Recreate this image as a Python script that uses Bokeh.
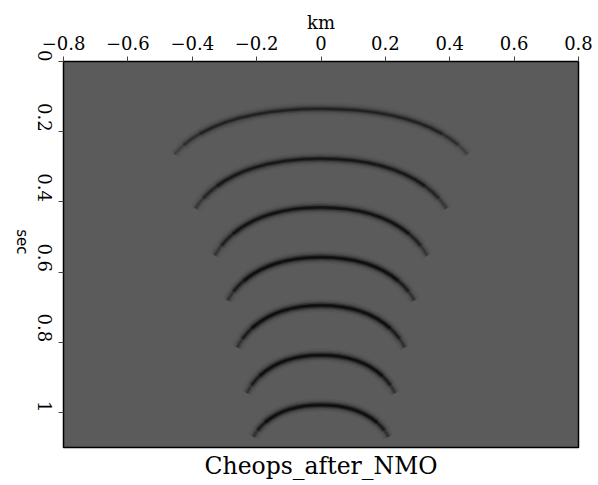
import math
from bokeh.plotting import figure
from bokeh.models import Range1d, FixedTicker, Title, ColumnDataSource
from bokeh.embed import file_html
from bokeh.resources import INLINE

# ---- data ----
x_ticks = [-0.8, -0.6, -0.4, -0.2, 0.0, 0.2, 0.4, 0.6, 0.8]
x_labels = ["\u22120.8", "\u22120.6", "\u22120.4", "\u22120.2", "0", "0.2", "0.4", "0.6", "0.8"]
y_ticks = [0.0, 0.2, 0.4, 0.6, 0.8, 1.0]
y_labels = ["0", "0.2", "0.4", "0.6", "0.8", "1"]

# events: apex time (s), half aperture (km), time at aperture end (s), relative darkness
apex_time = [0.135, 0.277, 0.416, 0.558, 0.695, 0.837, 0.979]
half_width = [0.455, 0.39, 0.33, 0.29, 0.26, 0.23, 0.21]
end_time = [0.265, 0.419, 0.553, 0.681, 0.815, 0.945, 1.07]
darkness = [0.6, 0.8, 0.9, 1.0, 1.0, 1.0, 1.0]

SERIF = "DejaVu Serif"

p = figure(width=598, height=485, output_backend="svg", toolbar_location=None,
           x_range=Range1d(-0.8, 0.8), y_range=Range1d(1.1, 0.0),
           x_axis_location="above",
           min_border_left=63, min_border_right=20, min_border_top=61, min_border_bottom=38)
p.background_fill_color = "#5b5b5b"
p.border_fill_color = "white"
p.outline_line_color = "black"
p.outline_line_width = 1.5
p.grid.visible = False


def lerp(a, b, s):
    return (a[0] + (b[0] - a[0]) * s, a[1] + (b[1] - a[1]) * s)


def split_left(P, s):
    a = lerp(P[0], P[1], s); b = lerp(P[1], P[2], s); c = lerp(P[2], P[3], s)
    d = lerp(a, b, s); e = lerp(b, c, s); f = lerp(d, e, s)
    return [P[0], a, d, f], [f, e, c, P[3]]


def sub_curve(P, s0, s1):
    left, _ = split_left(P, s1)
    if s0 <= 0:
        return left
    _, right = split_left(left, s0 / s1)
    return right


pieces = [(0.0, 0.72, 1.0), (0.72, 0.88, 0.7), (0.88, 1.0, 0.38)]
layers = [(13, 0.06), (9, 0.14), (6, 0.28), (3.5, 0.45), (1.8, 0.5)]

cols = {k: [] for k in ["x0", "y0", "x1", "y1", "cx0", "cy0", "cx1", "cy1", "amp"]}
for sgn in (-1, 1):
    for t0, w, te, a in zip(apex_time, half_width, end_time, darkness):
        d = te - t0
        P = [(0.0, t0), (sgn * 0.5 * w, t0), (sgn * 0.85 * w, t0 + 0.4 * d), (sgn * w, te)]
        for s0, s1, fade in pieces:
            Q = sub_curve(P, s0, s1)
            cols["x0"].append(Q[0][0]); cols["y0"].append(Q[0][1])
            cols["cx0"].append(Q[1][0]); cols["cy0"].append(Q[1][1])
            cols["cx1"].append(Q[2][0]); cols["cy1"].append(Q[2][1])
            cols["x1"].append(Q[3][0]); cols["y1"].append(Q[3][1])
            cols["amp"].append(a * fade)

for lw, al in layers:
    data = dict(cols)
    data["alpha"] = [al * v for v in cols["amp"]]
    src = ColumnDataSource(data)
    p.bezier(x0="x0", y0="y0", x1="x1", y1="y1", cx0="cx0", cy0="cy0",
             cx1="cx1", cy1="cy1", source=src, line_color="black",
             line_width=lw, line_alpha="alpha", line_cap="butt")

for ax in (p.xaxis[0], p.yaxis[0]):
    ax.axis_line_color = None
    ax.major_tick_line_color = "#444444"
    ax.major_tick_out = 5
    ax.major_tick_in = 0
    ax.minor_tick_line_color = None
    ax.major_label_text_font = SERIF
    ax.major_label_text_font_size = "18px"
    ax.major_label_text_color = "black"
    ax.axis_label_text_font_style = "normal"
    ax.axis_label_text_color = "black"

xa = p.xaxis[0]
xa.ticker = FixedTicker(ticks=x_ticks)
xa.major_label_overrides = dict(zip(x_ticks, x_labels))
xa.major_label_standoff = 7
xa.axis_label = "km"
xa.axis_label_text_font = SERIF
xa.axis_label_text_font_size = "18px"
xa.axis_label_standoff = 0

ya = p.yaxis[0]
ya.ticker = FixedTicker(ticks=y_ticks)
ya.major_label_overrides = dict(zip(y_ticks, y_labels))
ya.major_label_orientation = -math.pi / 2
ya.major_label_standoff = 14
ya.axis_label = "sec"
ya.axis_label_text_font = "DejaVu Sans"
ya.axis_label_text_font_size = "15px"
ya.axis_label_standoff = 6
ya.axis_label_orientation = -math.pi / 2

p.add_layout(Title(text="Cheops_after_NMO", align="center", text_font=SERIF,
                   text_font_size="23.5px", text_font_style="normal",
                   text_color="black", standoff=4), "below")

open("out.html", "w").write(file_html(p, INLINE))
